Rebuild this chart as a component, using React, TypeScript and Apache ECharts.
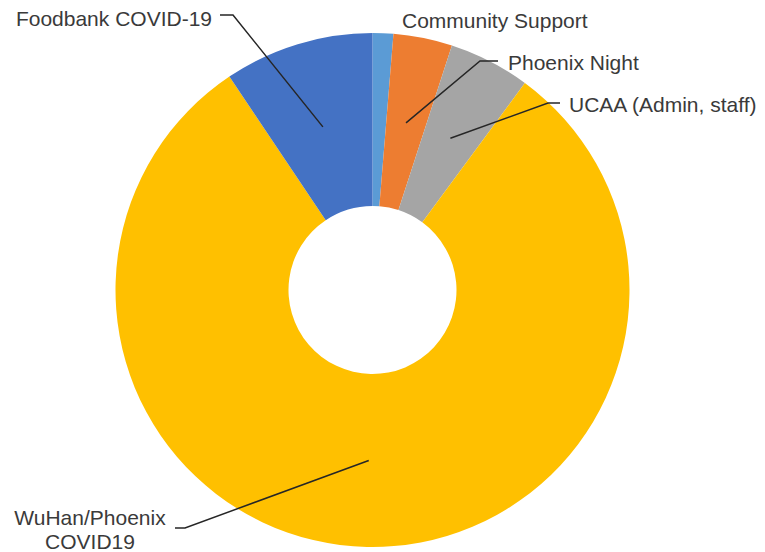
import React, { useEffect, useRef } from "react";
import * as echarts from "echarts";

const categories = [
  "Community Support",
  "Phoenix Night",
  "UCAA (Admin, staff)",
  "WuHan/Phoenix\nCOVID19",
  "Foodbank COVID-19",
];
const values = [1.3, 3.7, 5.1, 80.5, 9.4];
const colors = ["#5B9BD5", "#ED7D31", "#A5A5A5", "#FFC000", "#4472C4"];

// label placement (manual, as in the source)
const labelX = [402, 508, 569, 90, 212];
const labelY = [20, 62, 104, 529, 18];
const labelAlign = ["left", "left", "left", "center", "right"];
const hasLeader = [false, true, true, true, true];
const leaderElbow = [[0, 0], [480, 61], [548, 103], [185, 528], [233, 15]];
const leaderEnd = [[0, 0], [498, 61], [560, 103], [175, 528], [220, 15]];

const CX = 372.5;
const CY = 290;
const R_IN = 84;
const R_OUT = 257;

export default function App() {
  const ref = useRef<HTMLDivElement>(null);
  useEffect(() => {
    document.body.style.margin = "0";
    if (!ref.current) return;
    const chart = echarts.init(ref.current, null, { renderer: "svg" });
    const total = values.reduce((a, b) => a + b, 0);
    let cum = 0;
    const rMid = (R_IN + R_OUT) / 2;
    const lines: any[] = [];
    values.forEach((v, i) => {
      const mid = ((cum + v / 2) / total) * Math.PI * 2;
      cum += v;
      if (!hasLeader[i]) return;
      const sx = CX + rMid * Math.sin(mid);
      const sy = CY - rMid * Math.cos(mid);
      lines.push({
        type: "polyline",
        z: 100,
        shape: { points: [[sx, sy], leaderElbow[i], leaderEnd[i]] },
        style: { stroke: "#262626", lineWidth: 1.5, fill: "none" },
      });
    });
    chart.setOption({
      animation: false,
      backgroundColor: "#ffffff",
      graphic: lines,
      series: [
        {
          type: "pie",
          center: [CX, CY],
          radius: [R_IN, R_OUT],
          startAngle: 90,
          clockwise: true,
          avoidLabelOverlap: false,
          itemStyle: { borderWidth: 0 },
          label: {
            show: true,
            position: "outside",
            formatter: "{b}",
            color: "#3a3a3a",
            fontFamily: "Liberation Sans, Arial, sans-serif",
            fontSize: 21,
            lineHeight: 24,
          },
          labelLine: { show: false },
          labelLayout: (p: any) => ({
            x: labelX[p.dataIndex],
            y: labelY[p.dataIndex],
            align: labelAlign[p.dataIndex],
            verticalAlign: "middle",
          }),
          emphasis: { disabled: true },
          data: categories.map((name, i) => ({
            name,
            value: values[i],
            itemStyle: { color: colors[i] },
            label: { align: labelAlign[i] },
          })),
        },
      ],
    });
    return () => chart.dispose();
  }, []);
  return <div ref={ref} style={{ width: 765, height: 552 }} />;
}
